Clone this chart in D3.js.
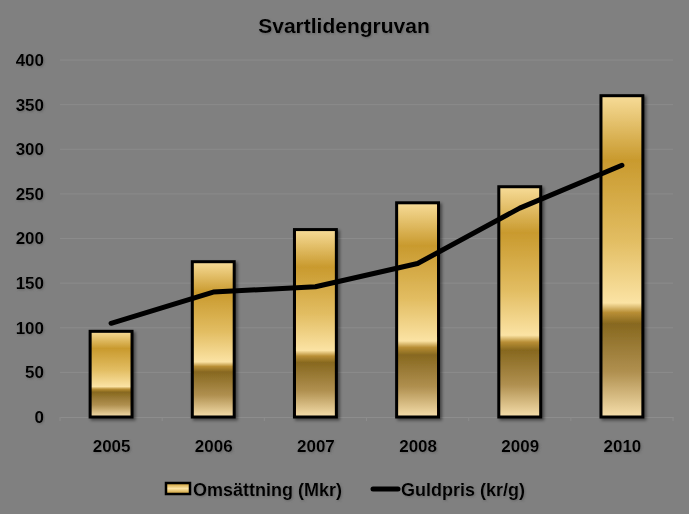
<!DOCTYPE html>
<html><head><meta charset="utf-8">
<script src="https://cdn.jsdelivr.net/npm/d3@7"></script>
<style>
html,body{margin:0;padding:0;background:#808080;}
text{font-family:"Liberation Sans",Arial,sans-serif;font-weight:bold;fill:#000;}
</style></head>
<body>
<svg id="chart" width="689" height="514"></svg>
<script>
const years = ["2005","2006","2007","2008","2009","2010"];
const omsattning = [96, 174, 210, 240, 258, 360];
const guldpris = [105, 140, 146, 172, 234, 282];
const yTicks = [0,50,100,150,200,250,300,350,400];
const title = "Svartlidengruvan";
const seriesNames = ["Omsättning (Mkr)", "Guldpris (kr/g)"];

(function(){
const svg = d3.select("#chart");
svg.append("rect").attr("width",689).attr("height",514).attr("fill","#808080");

const defs = svg.append("defs");
const grad = defs.append("linearGradient").attr("id","gold").attr("x1",0).attr("y1",0).attr("x2",0).attr("y2",1);
[[0,"#f7dc98"],[0.2,"#c99a2e"],[0.45,"#e2bd62"],[0.645,"#fbe3a4"],[0.675,"#b88e35"],[0.71,"#87681f"],[0.86,"#b09050"],[1,"#f6dfac"]]
  .forEach(([o,c])=>grad.append("stop").attr("offset",o).attr("stop-color",c));
const lgrad = defs.append("linearGradient").attr("id","goldLeg").attr("x1",0).attr("y1",0).attr("x2",0).attr("y2",1);
[[0,"#c99a2e"],[0.5,"#fbe3a4"],[1,"#c99a2e"]].forEach(([o,c])=>lgrad.append("stop").attr("offset",o).attr("stop-color",c));
const sh = defs.append("filter").attr("id","shadow").attr("x","-20%").attr("y","-20%").attr("width","150%").attr("height","150%");
sh.append("feDropShadow").attr("dx",2).attr("dy",2).attr("stdDeviation",1.5).attr("flood-color","#000").attr("flood-opacity",0.45);
const tsh = defs.append("filter").attr("id","tshadow").attr("x","-10%").attr("y","-30%").attr("width","120%").attr("height","160%");
tsh.append("feDropShadow").attr("dx",1).attr("dy",1).attr("stdDeviation",1).attr("flood-color","#555").attr("flood-opacity",0.6);

const mLeft = 60, mRight = 673, mTop = 60, mBottom = 417;
const x = d3.scaleBand().domain(years).range([mLeft,mRight]).paddingInner(0.59).paddingOuter(0.295);
const xc = d3.scalePoint().domain(years).range([mLeft,mRight]).padding(0.5);
const y = d3.scaleLinear().domain([0,400]).range([mBottom,mTop]);

// gridlines
svg.append("g").selectAll("line").data(yTicks.filter(d=>d>0)).join("line")
  .attr("x1",mLeft).attr("x2",mRight).attr("y1",d=>y(d)).attr("y2",d=>y(d))
  .attr("stroke","#8b8b8b").attr("stroke-width",1);

// y axis labels
const yAxis = svg.append("g").attr("transform",`translate(${mLeft},0)`)
  .call(d3.axisLeft(y).tickValues(yTicks).tickSize(0).tickPadding(16));
yAxis.select(".domain").remove();
yAxis.selectAll("text").attr("font-size",17).attr("font-family","Liberation Sans, Arial, sans-serif").attr("font-weight","bold").attr("fill","#000").attr("filter","url(#tshadow)");

// x axis
const xAxis = svg.append("g").attr("transform",`translate(0,${mBottom})`)
  .call(d3.axisBottom(xc).tickSize(0).tickPadding(23));
xAxis.select(".domain").attr("stroke","#8d8d8d");
xAxis.selectAll("text").attr("font-size",17).attr("font-family","Liberation Sans, Arial, sans-serif").attr("font-weight","bold").attr("fill","#000").attr("filter","url(#tshadow)");
svg.append("g").selectAll("line").data(d3.range(years.length+1)).join("line")
  .attr("x1",i=>mLeft+i*(mRight-mLeft)/years.length).attr("x2",i=>mLeft+i*(mRight-mLeft)/years.length)
  .attr("y1",mBottom).attr("y2",mBottom+4).attr("stroke","#8d8d8d");

// bars
svg.append("g").selectAll("rect").data(omsattning).join("rect")
  .attr("x",(d,i)=>x(years[i])).attr("width",x.bandwidth())
  .attr("y",d=>y(d)).attr("height",d=>y(0)-y(d))
  .attr("fill","url(#gold)").attr("stroke","#000").attr("stroke-width",3)
  .attr("filter","url(#shadow)");

// line
const line = d3.line().x((d,i)=>xc(years[i])).y(d=>y(d)).curve(d3.curveLinear);
svg.append("path").datum(guldpris).attr("d",line)
  .attr("fill","none").attr("stroke","#000").attr("stroke-width",5).attr("stroke-linecap","round").attr("stroke-linejoin","round");

// title
svg.append("text").attr("x",344).attr("y",33).attr("text-anchor","middle")
  .attr("font-size",21).attr("filter","url(#tshadow)").text(title);

// legend
const lg = svg.append("g");
lg.append("rect").attr("x",166).attr("y",483).attr("width",24).attr("height",11)
  .attr("fill","url(#goldLeg)").attr("stroke","#000").attr("stroke-width",2.5);
lg.append("text").attr("x",193).attr("y",496).attr("font-size",18).attr("filter","url(#tshadow)").text(seriesNames[0]);
lg.append("line").attr("x1",373).attr("x2",398).attr("y1",489).attr("y2",489)
  .attr("stroke","#000").attr("stroke-width",5).attr("stroke-linecap","round");
lg.append("text").attr("x",401).attr("y",496).attr("font-size",18).attr("filter","url(#tshadow)").text(seriesNames[1]);
})();
</script>
</body></html>
